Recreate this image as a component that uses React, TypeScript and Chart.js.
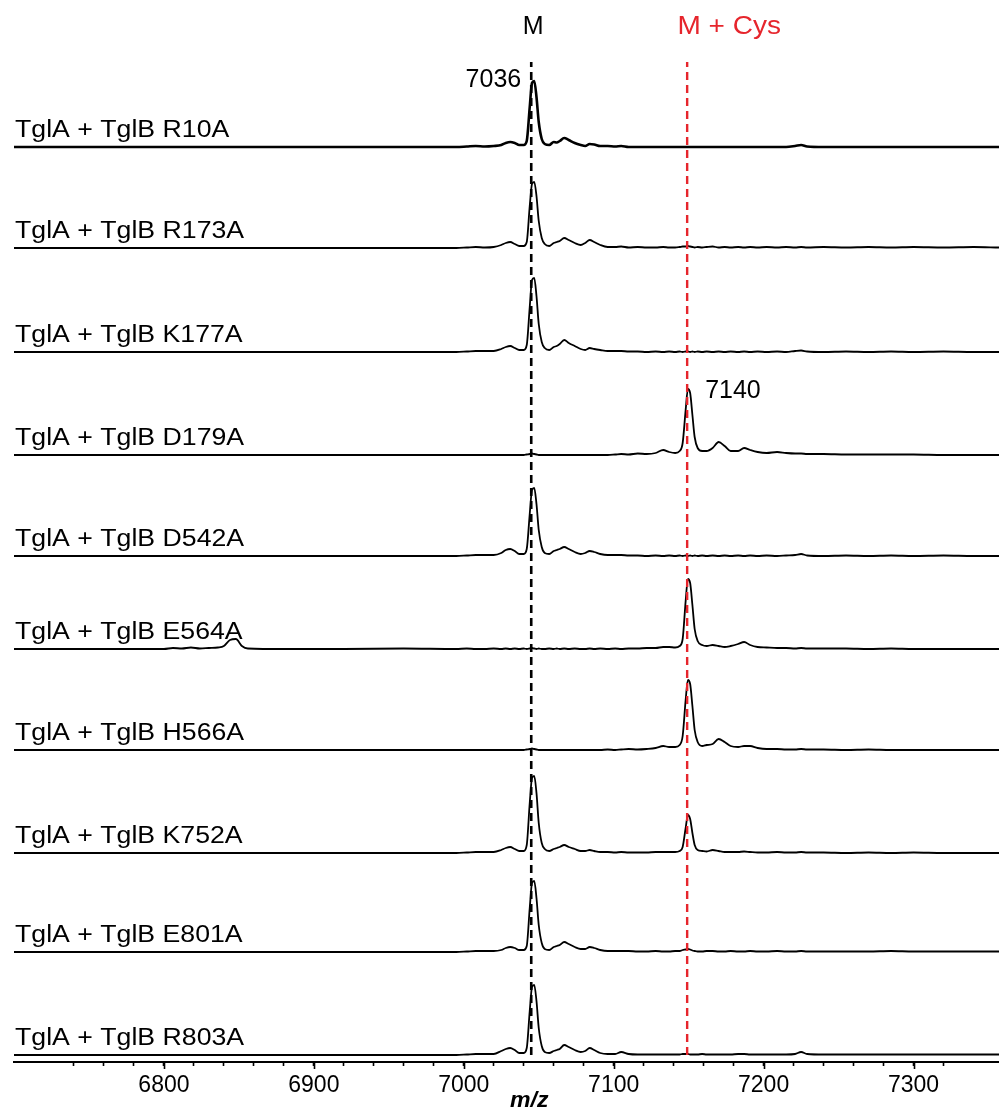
import React, { useEffect, useRef } from "react";
import { Chart, registerables } from "chart.js";
Chart.register(...registerables);

const FONT = "'Liberation Sans', Arial, Helvetica, sans-serif";

// m/z grid shared by all spectra
const MZ = [
  6700, 6790, 6800, 6806, 6812, 6818, 6824, 6830, 6836, 6840,
  6844, 6848, 6852, 6856, 6880, 6920, 6960, 6995, 7002, 7008,
  7014, 7020, 7025, 7028, 7031, 7034, 7037, 7040, 7042, 7044,
  7045.5, 7047, 7048.5, 7050, 7052, 7054, 7057, 7060, 7062, 7064,
  7067, 7070, 7074, 7078, 7081, 7084, 7087, 7091, 7096, 7101,
  7105, 7110, 7116, 7122, 7128, 7133, 7137, 7141, 7144, 7146,
  7148, 7149.5, 7151, 7152.5, 7154, 7156, 7159, 7162, 7166, 7170,
  7174, 7178, 7183, 7187, 7191, 7196, 7202, 7209, 7215, 7221,
  7225, 7229, 7240, 7255, 7270, 7285, 7300, 7320, 7340, 7357,
];

const SAMPLES = [
  "TglA + TglB R10A",
  "TglA + TglB R173A",
  "TglA + TglB K177A",
  "TglA + TglB D179A",
  "TglA + TglB D542A",
  "TglA + TglB E564A",
  "TglA + TglB H566A",
  "TglA + TglB K752A",
  "TglA + TglB E801A",
  "TglA + TglB R803A",
];

const R10A = [
  0, 0, 0, 0, 0, 0, 0, 0, 0, 0,
  0, 0, 0, 0, 0, 0, 0, 0, 0.5, 1,
  0.5, 1, 2, 4, 5, 4, 2, 2, 6, 40,
  64, 66, 50, 25, 8, 3, 2, 5, 4.5, 6,
  9, 7, 4, 2, 1, 3, 2.5, 1, 1, 0.5,
  1, 0, 0, 0, 0, 0, 0, 0, 0, 0,
  0, 0, 0, 0, 0, 0, 0, 0, 0, 0,
  0, 0, 0, 0, 0, 0, 0, 0, 0, 1,
  2, 0.5, 0, 0, 0, 0, 0, 0, 0, 0,
];
const R173A = [
  0, 0, 0, 0, 0, 0, 0, 0, 0, 0,
  0, 0, 0, 0, 0, 0, 0, 0, 0.5, 1,
  0.5, 1, 3, 5, 6, 4, 2, 2, 6, 42,
  64, 66, 52, 27, 10, 4, 2, 5, 6, 7,
  10, 8, 5, 3, 5, 8, 6, 3, 1, 1,
  1.5, 0.5, 1, 0.5, 0.5, 1, 0.5, 0.5, 1, 1.5,
  1.5, 2, 1.5, 1, 0.5, 1, 0.5, 1, 1.5, 0.5,
  1, 0.5, 1, 0.5, 1, 0.5, 1, 0.5, 1, 0.5,
  1, 0.5, 1, 0.5, 1, 0.5, 1, 0.5, 1, 0.5,
];
const K177A = [
  0, 0, 0, 0, 0, 0, 0, 0, 0, 0,
  0, 0, 0, 0, 0, 0, 0, 0, 0.5, 1,
  1, 1, 3, 5, 6, 4, 2, 2, 7, 45,
  72, 74, 56, 28, 10, 4, 2, 5, 6, 8,
  12, 9, 6, 3, 2, 4, 3, 2, 1, 1,
  1, 0.5, 0.5, 0, 0.5, 0, 0.5, 0, 0.5, 0,
  0.5, 0.5, 0, 0.5, 0, 0.5, 0, 0.5, 0, 0.5,
  0, 0.5, 0, 0.5, 0, 0.5, 0, 0.5, 0, 1,
  1.5, 0.5, 0, 0.5, 0, 0.5, 0, 0.5, 0, 0,
];
const D179A = [
  0, 0, 0, 0, 0, 0, 0, 0, 0, 0,
  0, 0, 0, 0, 0, 0, 0, 0, 0, 0,
  0, 0, 0, 0, 0, 0, 0, 0, 0.5, 1,
  1.5, 1, 0.5, 0, 0, 0, 0, 0, 0, 0,
  0, 0, 0, 0, 0, 0, 0, 0, 0, 0.5,
  1, 0.5, 1.5, 1, 2, 5, 3, 2, 4, 12,
  45, 66, 62, 40, 18, 7, 4, 4, 7, 13,
  9, 4, 4, 7, 5, 3, 2, 3, 2, 1.5,
  1.5, 1, 1, 0.5, 0.5, 0.5, 0.5, 0, 0, 0,
];
const D542A = [
  0, 0, 0, 0, 0, 0, 0, 0, 0, 0,
  0, 0, 0, 0, 0, 0, 0, 0, 0.5, 1,
  1, 1, 3, 6, 7, 5, 2, 2, 7, 42,
  66, 68, 52, 26, 9, 3, 2, 5, 6, 7,
  9, 7, 4, 2, 3, 5, 4, 2, 1, 1,
  1, 0.5, 0.5, 0, 0.5, 0, 0.5, 0, 0.5, 0,
  0.5, 0, 0.5, 0, 0.5, 0, 0.5, 0, 0.5, 0,
  0.5, 0, 0.5, 0, 0.5, 0, 0.5, 0, 0.5, 1,
  2, 0.5, 0, 0.5, 0, 0.5, 0, 0.5, 0, 0,
];
const E564A = [
  0, 0, 0, 1, 0.5, 1.5, 0.5, 1, 1.5, 3,
  9, 10, 3, 0.5, 0, 0, 0.5, 0, 0.5, 0,
  0, 0.5, 0, 0.5, 0, 0.5, 0, 0.5, 0, 0.5,
  1, 0.5, 0, 0.5, 0, 0, 0.5, 0, 0.5, 0,
  0.5, 0, 0.5, 0, 0, 0.5, 0, 0.5, 0, 0.5,
  0, 0.5, 0.5, 1, 1, 2, 2, 1.5, 3, 10,
  48, 70, 66, 44, 20, 8, 4, 3, 4, 3,
  2, 3, 5, 7, 4, 2, 1.5, 1, 1, 0.5,
  1, 0.5, 0.5, 0.5, 0, 0.5, 0, 0, 0, 0,
];
const H566A = [
  0, 0, 0, 0, 0, 0, 0, 0, 0, 0,
  0, 0, 0, 0, 0, 0, 0, 0, 0, 0,
  0, 0, 0, 0, 0, 0, 0, 0, 0.5, 1,
  1.5, 1, 0.5, 0, 0, 0, 0, 0, 0, 0,
  0, 0, 0, 0, 0, 0, 0, 0, 0.5, 0,
  0.5, 1, 0.5, 1, 2, 4, 3, 3, 5, 14,
  50, 70, 66, 44, 20, 8, 4, 5, 6, 11,
  8, 4, 3, 4, 4, 2, 1, 1, 0.5, 0.5,
  1, 0.5, 0.5, 0, 0.5, 0, 0, 0, 0, 0,
];
const K752A = [
  0, 0, 0, 0, 0, 0, 0, 0, 0, 0,
  0, 0, 0, 0, 0, 0, 0, 0, 0.5, 1,
  1, 1, 3, 5, 6, 4, 2, 2, 8, 50,
  75, 77, 60, 30, 10, 4, 2, 4, 5, 6,
  8, 6, 4, 2, 2, 3, 2, 1, 1, 0.5,
  1, 0.5, 0.5, 0.5, 1, 1, 1, 1, 2, 6,
  25, 38, 34, 20, 8, 3, 2, 1.5, 3, 2,
  1, 1, 1, 1.5, 1, 0.5, 0.5, 1, 0.5, 0.5,
  1, 0.5, 0.5, 0, 0.5, 0, 0.5, 0, 0, 0,
];
const E801A = [
  0, 0, 0, 0, 0, 0, 0, 0, 0, 0,
  0, 0, 0, 0, 0, 0, 0, 0, 0.5, 1,
  1, 1, 2, 4, 5, 4, 2, 2, 6, 44,
  69, 71, 54, 27, 9, 3, 2, 5, 6, 7,
  10, 8, 5, 3, 3, 5, 4, 2, 1, 1,
  1, 1, 0.5, 0.5, 1, 0.5, 0.5, 1, 1, 2,
  2.5, 3, 2.5, 1.5, 1, 0.5, 0.5, 1, 1, 0.5,
  0.5, 1, 0.5, 0.5, 1, 0.5, 0.5, 1, 0.5, 0.5,
  1, 0.5, 0.5, 0.5, 0.5, 1, 0.5, 0.5, 0.5, 0.5,
];
const R803A = [
  0, 0, 0, 0, 0, 0, 0, 0, 0, 0,
  0, 0, 0, 0, 0, 0, 0, 0, 0.5, 1,
  1, 1, 4, 6, 7, 5, 2, 2, 7, 44,
  68, 70, 54, 27, 9, 3, 2, 4, 5, 6,
  10, 8, 5, 3, 4, 7, 5, 2, 1, 1,
  3, 1, 0.5, 0.5, 0.5, 0.5, 0.5, 0.5, 0.5, 1,
  1, 1, 0.5, 0.5, 0.5, 0.5, 1, 0.5, 0.5, 0.5,
  0.5, 0.5, 1, 1, 0.5, 0.5, 0.5, 0.5, 0.5, 1,
  3, 1, 0.5, 0.5, 0.5, 0.5, 0.5, 0.5, 0.5, 0.5,
];

const SERIES = [R10A, R173A, K177A, D179A, D542A, E564A, H566A, K752A, E801A, R803A];

// vertical stacking offsets of each spectrum (y units)
const OFFSETS = [915, 814, 710, 607, 506, 413, 312, 209, 110, 7];

const X_MIN = 6700;
const X_MAX = 7357;
const X_TICKS_STEP = 20;
const X_LABEL_MIN = 6800;
const M_MZ = 7045;
const M_CYS_MZ = 7149;
const M_LABEL = "M";
const M_CYS_LABEL = "M + Cys";
const M_PEAK_LABEL = "7036";
const M_CYS_PEAK_LABEL = "7140";
const X_TITLE = "m/z";
const RED = "#e6252c";

function drawText(
  ctx: CanvasRenderingContext2D,
  text: string,
  x: number,
  y: number,
  font: string,
  color: string,
  align: CanvasTextAlign,
  baseline: CanvasTextBaseline,
  stretch: number
) {
  ctx.save();
  ctx.font = font;
  ctx.fillStyle = color;
  ctx.textAlign = align;
  ctx.textBaseline = baseline;
  ctx.translate(x, y);
  ctx.scale(stretch, 1);
  ctx.fillText(text, 0, 0);
  ctx.restore();
}

const overlayPlugin = {
  id: "overlay",
  afterDraw(chart: any) {
    const ctx: CanvasRenderingContext2D = chart.ctx;
    const xs = chart.scales.x;
    const ys = chart.scales.y;
    // longer major ticks
    ctx.save();
    ctx.strokeStyle = "#000";
    ctx.lineWidth = 1.6;
    xs.ticks.forEach((t: any) => {
      if (t.value % 100 === 0 && t.value >= X_LABEL_MIN) {
        const px = Math.round(xs.getPixelForValue(t.value)) + 0.5;
        ctx.beginPath();
        ctx.moveTo(px, xs.top);
        ctx.lineTo(px, xs.top + 7);
        ctx.stroke();
      }
    });
    ctx.restore();

    // sample labels
    SAMPLES.forEach((s, i) => {
      const y = ys.getPixelForValue(OFFSETS[i]) - 10;
      drawText(ctx, s, 15, y, `23px ${FONT}`, "#000", "left", "alphabetic", 1.16);
    });

    const mx = xs.getPixelForValue(M_MZ);
    const cx = xs.getPixelForValue(M_CYS_MZ);
    drawText(ctx, M_LABEL, mx + 2, 27, `25px ${FONT}`, "#000", "center", "middle", 1.0);
    drawText(ctx, M_CYS_LABEL, cx + 42, 27, `25px ${FONT}`, RED, "center", "middle", 1.12);
    drawText(ctx, M_PEAK_LABEL, mx - 10, 80, `25px ${FONT}`, "#000", "right", "middle", 1.0);
    drawText(
      ctx,
      M_CYS_PEAK_LABEL,
      cx + 18,
      ys.getPixelForValue(OFFSETS[3] + 64),
      `25px ${FONT}`,
      "#000",
      "left",
      "middle",
      1.0
    );
    drawText(ctx, X_TITLE, mx - 2, 1101, `italic bold 22px ${FONT}`, "#000", "center", "middle", 1.05);
  },
};

export default function App() {
  const ref = useRef<HTMLCanvasElement | null>(null);

  useEffect(() => {
    if (!ref.current) return;
    const traceSets = SERIES.map((vals, i) => ({
      label: SAMPLES[i],
      data: MZ.map((x, k) => ({ x, y: OFFSETS[i] + vals[k] })),
      borderColor: "#000",
      borderWidth: i === 0 ? 2.6 : 1.8,
      pointRadius: 0,
      fill: false,
      cubicInterpolationMode: "monotone" as const,
      order: 2,
    }));
    const markerTop = 1000;
    const markerBottom = OFFSETS[OFFSETS.length - 1];
    const markerSets = [
      {
        label: M_LABEL,
        data: [
          { x: M_MZ, y: markerBottom },
          { x: M_MZ, y: markerTop },
        ],
        borderColor: "#000",
        borderWidth: 2.6,
        borderDash: [8, 5],
        pointRadius: 0,
        order: 0,
      },
      {
        label: M_CYS_LABEL,
        data: [
          { x: M_CYS_MZ, y: markerBottom },
          { x: M_CYS_MZ, y: markerTop },
        ],
        borderColor: RED,
        borderWidth: 2.4,
        borderDash: [8, 5],
        pointRadius: 0,
        order: 0,
      },
    ];

    const chart = new Chart(ref.current, {
      type: "line",
      data: { datasets: [...traceSets, ...markerSets] as any },
      options: {
        animation: false,
        responsive: false,
        devicePixelRatio: 1,
        layout: { padding: { left: 14, right: 0, top: 62, bottom: 0 } },
        plugins: {
          legend: { display: false },
          tooltip: { enabled: false },
          title: { display: false },
        },
        scales: {
          x: {
            type: "linear",
            min: X_MIN,
            max: X_MAX,
            afterFit: (scale: any) => {
              scale.height = 50;
              scale.paddingLeft = 0;
              scale.paddingRight = 0;
            },
            border: { display: true, color: "#000", width: 2 },
            grid: {
              display: true,
              drawOnChartArea: false,
              drawTicks: true,
              tickLength: 4,
              tickWidth: 1.6,
              tickColor: (c: any) => {
                const v = c.tick ? c.tick.value : 0;
                return v % X_TICKS_STEP === 0 && v > X_MIN + 30 ? "#000" : "rgba(0,0,0,0)";
              },
            },
            ticks: {
              stepSize: X_TICKS_STEP,
              autoSkip: false,
              maxRotation: 0,
              padding: 6,
              color: "#000",
              font: { family: FONT, size: 23 },
              callback: (v: any) =>
                Number(v) % 100 === 0 && Number(v) >= X_LABEL_MIN ? String(v) : "",
            },
          },
          y: {
            type: "linear",
            display: false,
            min: 0,
            max: 1000,
          },
        },
      },
      plugins: [overlayPlugin],
    });
    return () => chart.destroy();
  }, []);

  return (
    <div style={{ position: "absolute", left: 0, top: 0, width: 999, height: 1112, background: "#fff" }}>
      <canvas ref={ref} width={999} height={1112} style={{ display: "block" }} />
    </div>
  );
}
